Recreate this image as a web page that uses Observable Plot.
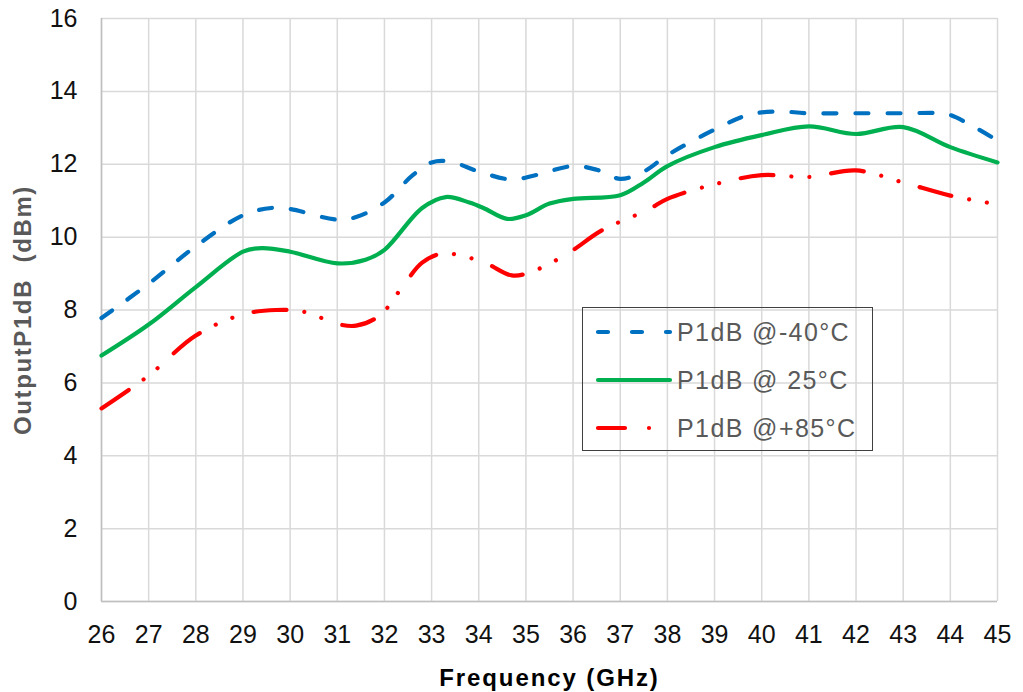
<!DOCTYPE html>
<html><head><meta charset="utf-8">
<script src="https://cdn.jsdelivr.net/npm/d3@7"></script>
<script src="https://cdn.jsdelivr.net/npm/@observablehq/plot@0.6"></script>
<style>
body{margin:0;background:#fff;}
#wrap{position:relative;width:1023px;height:692px;font-family:"Liberation Sans",Arial,sans-serif;}
#wrap svg g[aria-label="x-axis label"] text{font-weight:bold;fill:#000;white-space:pre;font-size:24px;letter-spacing:1.9px;}
#wrap svg g[aria-label="y-axis label"] text{font-weight:bold;fill:#595959;white-space:pre;font-size:24px;letter-spacing:1.6px;}
#wrap svg g[aria-label="x-axis tick label"], #wrap svg g[aria-label="y-axis tick label"]{font-size:25px !important;}
#wrap svg g[aria-label="x-axis tick label"] text, #wrap svg g[aria-label="y-axis tick label"] text{fill:#111;font-size:25px !important;}
#legend{position:absolute;left:582px;top:307px;width:291px;height:144px;border:1.5px solid #404040;box-sizing:border-box;}
.row{position:absolute;left:12px;height:30px;display:flex;align-items:center;}
.row span{font-size:25px;letter-spacing:1.4px;color:#595959;margin-left:4px;white-space:pre;}
</style></head>
<body><div id="wrap"></div>
<script>
// Data
const xTicks = [26,27,28,29,30,31,32,33,34,35,36,37,38,39,40,41,42,43,44,45];
const yTicks = [0,2,4,6,8,10,12,14,16];
const seriesNames = ["P1dB @-40°C","P1dB @ 25°C","P1dB @+85°C"];

const freqM40 = [26,27,28,29,29.6,30,31,31.4,32,32.6,33,33.4,34,34.7,35.2,36,36.5,37,37.5,38,39,39.7,40.3,41,42,43,43.8,44,44.5,45];
const p1dbM40 = [7.78,8.72,9.75,10.6,10.8,10.77,10.48,10.55,10.95,11.7,12.05,12.07,11.8,11.58,11.7,11.95,11.85,11.6,11.8,12.25,12.95,13.35,13.45,13.4,13.4,13.4,13.4,13.35,13.03,12.65];

const freq25 = [26,27,28,29,29.4,30,31,31.6,32,32.8,33.3,33.8,34.1,34.6,35,35.5,36,37,37.5,38,39,40,41,42,43,44,45];
const p1db25 = [6.75,7.6,8.63,9.6,9.7,9.6,9.28,9.38,9.65,10.8,11.1,10.95,10.8,10.5,10.6,10.92,11.05,11.15,11.5,11.95,12.47,12.8,13.04,12.83,13.02,12.47,12.05];

const freq85 = [26,27,28,29,29.7,30.3,31,31.4,31.9,32.4,32.8,33.25,34.1,34.7,35.1,35.9,36.6,37.6,38,39,40,41,42,43,44,45];
const p1db85 = [5.3,6.2,7.3,7.88,8.0,7.95,7.62,7.57,7.85,8.67,9.3,9.55,9.31,8.95,9.04,9.56,10.18,10.76,11.05,11.45,11.7,11.65,11.83,11.5,11.14,10.9];

const colors = ["#0070C0","#00B050","#FF0000"];
const dashes = ["13,19", null, "33,18,0.01,18,0.01,22"];

const toRows = (fs, vs, s) => fs.map((f,i)=>({f, v: vs[i], s}));
const sets = [toRows(freqM40,p1dbM40,0), toRows(freq25,p1db25,1), toRows(freq85,p1db85,2)];

const chart = Plot.plot({
  width:1023, height:692,
  marginLeft:101, marginRight:26, marginTop:18, marginBottom:91,
  style:{fontFamily:"'Liberation Sans', Arial, sans-serif", fontSize:"25px", color:"#000", background:"white", overflow:"visible"},
  x:{domain:[26,45]},
  y:{domain:[0,16]},
  marks:[
    Plot.gridX(xTicks,{stroke:"#d9d9d9",strokeOpacity:1,strokeWidth:1.5}),
    Plot.gridY(yTicks,{stroke:"#d9d9d9",strokeOpacity:1,strokeWidth:1.5}),
    Plot.ruleX([26],{stroke:"#bfbfbf",strokeWidth:1.5}),
    Plot.ruleY([0],{stroke:"#bfbfbf",strokeWidth:1.5}),
    Plot.axisX({ticks:xTicks, tickSize:0, tickPadding:24, tickFormat:d=>String(d), fontSize:25,
      label:"Frequency (GHz)", labelAnchor:"center", labelArrow:"none", labelOffset:84}),
    Plot.axisY({ticks:yTicks, tickSize:0, tickPadding:24, tickFormat:d=>String(d), fontSize:25,
      label:"OutputP1dB  (dBm)", labelAnchor:"center", labelArrow:"none", labelOffset:88}),
    ...sets.map((d,i)=>Plot.line(d,{x:"f", y:"v", curve:"catmull-rom", stroke:colors[i], strokeWidth:4.2,
      strokeDasharray:dashes[i], strokeLinecap:"round", strokeLinejoin:"round"}))
  ]
});
const wrap = document.getElementById("wrap");
wrap.appendChild(chart);

// Legend overlay
const leg = document.createElement("div");
leg.id = "legend";
const tops = [9, 57, 105];
seriesNames.forEach((name,i)=>{
  const row = document.createElement("div");
  row.className = "row";
  row.style.top = tops[i] + "px";
  const ns = "http://www.w3.org/2000/svg";
  const svg = document.createElementNS(ns,"svg");
  svg.setAttribute("width","78"); svg.setAttribute("height","10");
  const ln = document.createElementNS(ns,"line");
  ln.setAttribute("x1","3"); ln.setAttribute("x2","75"); ln.setAttribute("y1","5"); ln.setAttribute("y2","5");
  ln.setAttribute("stroke",colors[i]); ln.setAttribute("stroke-width","4.2"); ln.setAttribute("stroke-linecap","round");
  if (dashes[i]) ln.setAttribute("stroke-dasharray", i===0 ? "10,24" : "27,24,0.01,24");
  svg.appendChild(ln);
  const sp = document.createElement("span");
  sp.textContent = name;
  row.appendChild(svg); row.appendChild(sp);
  leg.appendChild(row);
});
wrap.appendChild(leg);
</script>
</body></html>
